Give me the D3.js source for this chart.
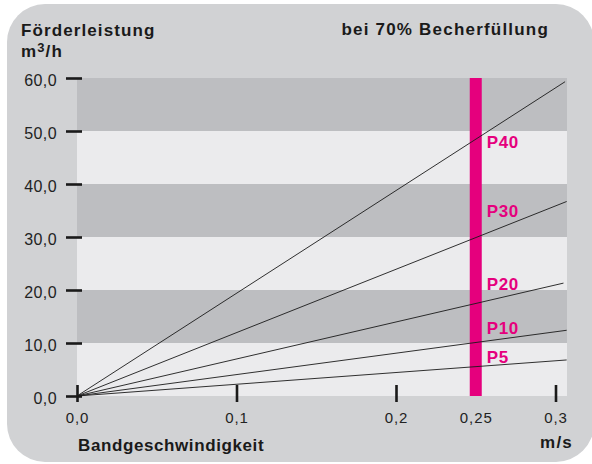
<!DOCTYPE html>
<html>
<head>
<meta charset="utf-8">
<style>
  body { margin: 0; background: #fff; }
  svg { display: block; font-family: "Liberation Sans", Arial, sans-serif; }
</style>
</head>
<body>
<svg width="592" height="464"></svg>
<script src="https://cdn.jsdelivr.net/npm/d3@7/dist/d3.min.js"></script>
<script>

// speed (m/s) on x, capacity (m3/h) on y
var speedTicks = [0, 0.1, 0.2, 0.25, 0.3];
var speedLabels = ["0,0", "0,1", "0,2", "0,25", "0,3"];
var capTicks = [0, 10, 20, 30, 40, 50, 60];
var capLabels = ["0,0", "10,0", "20,0", "30,0", "40,0", "50,0", "60,0"];

var series = ["P5", "P10", "P20", "P30", "P40"];
var endSpeed = [0.307, 0.307, 0.305, 0.307, 0.306];
var endCap = [6.8, 12.4, 21.3, 36.7, 59.3];
var labelCap = [6.3, 11.7, 20.0, 33.8, 46.8];

var markSpeed = 0.25;

var svg = d3.select("svg");

var x = d3.scaleLinear().domain([0, 0.3]).range([77, 555.5]);
var y = d3.scaleLinear().domain([0, 60]).range([396, 78]);

var pink = "#e5007d";

// background panel
svg.append("rect")
  .attr("x", 7).attr("y", 4)
  .attr("width", 587).attr("height", 458)
  .attr("rx", 38).attr("ry", 38)
  .attr("fill", "#d1d2d4");

// stripes
var plotRight = 567;
svg.append("g")
  .selectAll("rect")
  .data(d3.pairs(capTicks))
  .enter().append("rect")
    .attr("x", x(0))
    .attr("y", d => y(d[1]))
    .attr("width", plotRight - x(0))
    .attr("height", d => y(d[0]) - y(d[1]))
    .attr("fill", (d, i) => i % 2 == 0 ? "#ebebed" : "#bdbec1");

// the 0,25 marker
svg.append("rect")
  .attr("x", x(markSpeed) - 6)
  .attr("y", y(60))
  .attr("width", 12)
  .attr("height", y(0) - y(60))
  .attr("fill", pink);

// lines
svg.append("g")
  .selectAll("line")
  .data(series)
  .enter().append("line")
    .attr("x1", x(0)).attr("y1", y(0))
    .attr("x2", (d, i) => x(endSpeed[i]))
    .attr("y2", (d, i) => y(endCap[i]))
    .attr("stroke", "#1a1a1a")
    .attr("stroke-width", 0.9);

svg.append("g")
  .selectAll("text")
  .data(series)
  .enter().append("text")
    .attr("x", x(markSpeed) + 11)
    .attr("y", (d, i) => y(labelCap[i]))
    .attr("fill", pink)
    .attr("font-weight", "bold")
    .attr("font-size", 17)
    .attr("letter-spacing", 0.6)
    .text(d => d);

// y axis
var yAxis = d3.axisLeft(y)
  .tickValues(capTicks)
  .tickFormat((d, i) => capLabels[i])
  .tickSize(0)
  .tickPadding(20);

var gy = svg.append("g").attr("transform", "translate(" + x(0) + ",0)").call(yAxis);
gy.select(".domain").remove();
gy.selectAll(".tick line")
  .attr("x1", -11).attr("x2", 5)
  .attr("stroke", "#1a1a1a").attr("stroke-width", 2.6);
gy.selectAll("text")
  .attr("font-family", "Liberation Sans, Arial, sans-serif")
  .attr("font-size", 16).attr("fill", "#222")
  .attr("dy", "0.45em")
  .attr("letter-spacing", 0.4);

// x axis
var xAxis = d3.axisBottom(x)
  .tickValues(speedTicks)
  .tickFormat((d, i) => speedLabels[i])
  .tickSize(0)
  .tickPadding(16);

var gx = svg.append("g").attr("transform", "translate(0," + y(0) + ")").call(xAxis);
gx.select(".domain").remove();
gx.selectAll(".tick line")
  .attr("y1", -11).attr("y2", 6)
  .attr("stroke", d => d == markSpeed ? "none" : "#1a1a1a")
  .attr("stroke-width", 2.6);
gx.selectAll("text")
  .attr("font-family", "Liberation Sans, Arial, sans-serif")
  .attr("font-size", 15).attr("fill", "#222")
  .attr("letter-spacing", 0.9);

// titles
function boldText(tx, ty, s, anchor, sp) {
  return svg.append("text")
    .attr("x", tx).attr("y", ty)
    .attr("font-weight", "bold")
    .attr("font-size", 17)
    .attr("letter-spacing", sp)
    .attr("fill", "#1a1a1a")
    .attr("text-anchor", anchor || "start")
    .text(s);
}

boldText(21, 36, "Förderleistung", "start", 1.1);
var unit = boldText(21, 57, "m", "start", 1.1);
unit.append("tspan").attr("font-size", 13).attr("dy", -5).text("3");
unit.append("tspan").attr("dy", 5).text("/h");
boldText(549, 35, "bei 70% Becherfüllung", "end", 1.2);
boldText(78, 451, "Bandgeschwindigkeit", "start", 0.6);
boldText(573, 448, "m/s", "end", 1.2);

</script>
</body>
</html>
